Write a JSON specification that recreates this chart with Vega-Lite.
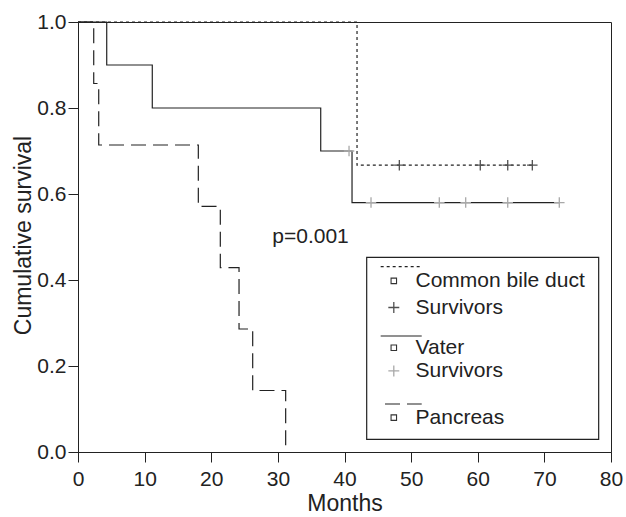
{
  "$schema": "https://vega.github.io/schema/vega-lite/v6.json",
  "width": 533,
  "height": 430,
  "autosize": {"type": "none"},
  "padding": {"left": 78, "top": 22, "right": 15, "bottom": 65},
  "background": "white",
  "config": {
    "view": {"stroke": "#222222", "strokeWidth": 1},
    "font": "Liberation Sans",
    "axis": {
      "domainColor": "#222222",
      "tickColor": "#222222",
      "tickSize": 10,
      "grid": false,
      "labelFont": "Liberation Sans",
      "labelFontSize": 21,
      "labelColor": "#222222",
      "titleFont": "Liberation Sans",
      "titleFontSize": 23,
      "titleFontWeight": "normal",
      "titleColor": "#222222"
    }
  },
  "datasets": {
    "km": [
      {"kind": "step", "series": "Common bile duct", "months": 0, "surv": 1},
      {"kind": "step", "series": "Common bile duct", "months": 41.88, "surv": 0.667},
      {"kind": "step", "series": "Common bile duct", "months": 68.19, "surv": 0.667},
      {"kind": "step", "series": "Vater", "months": 0, "surv": 1},
      {"kind": "step", "series": "Vater", "months": 4.31, "surv": 0.9},
      {"kind": "step", "series": "Vater", "months": 11.15, "surv": 0.8},
      {"kind": "step", "series": "Vater", "months": 36.43, "surv": 0.7},
      {"kind": "step", "series": "Vater", "months": 41.13, "surv": 0.58},
      {"kind": "step", "series": "Vater", "months": 72.24, "surv": 0.58},
      {"kind": "step", "series": "Pancreas", "months": 0, "surv": 1},
      {"kind": "step", "series": "Pancreas", "months": 2.36, "surv": 0.857},
      {"kind": "step", "series": "Pancreas", "months": 3.11, "surv": 0.714},
      {"kind": "step", "series": "Pancreas", "months": 18.06, "surv": 0.571},
      {"kind": "step", "series": "Pancreas", "months": 21.36, "surv": 0.429},
      {"kind": "step", "series": "Pancreas", "months": 24.17, "surv": 0.286},
      {"kind": "step", "series": "Pancreas", "months": 26.22, "surv": 0.143},
      {"kind": "step", "series": "Pancreas", "months": 31.17, "surv": 0},
      {"kind": "censor", "series": "Common bile duct", "months": 48.23, "surv": 0.667},
      {"kind": "censor", "series": "Common bile duct", "months": 60.38, "surv": 0.667},
      {"kind": "censor", "series": "Common bile duct", "months": 64.5, "surv": 0.667},
      {"kind": "censor", "series": "Common bile duct", "months": 68.19, "surv": 0.667},
      {"kind": "censor", "series": "Vater", "months": 40.68, "surv": 0.7},
      {"kind": "censor", "series": "Vater", "months": 43.98, "surv": 0.58},
      {"kind": "censor", "series": "Vater", "months": 54.23, "surv": 0.58},
      {"kind": "censor", "series": "Vater", "months": 58.19, "surv": 0.58},
      {"kind": "censor", "series": "Vater", "months": 64.5, "surv": 0.58},
      {"kind": "censor", "series": "Vater", "months": 72.24, "surv": 0.58}
    ],
    "legend": [
      {"kind": "box", "months": 43.33, "months2": 78.15, "surv": 0.0295, "surv2": 0.4528},
      {"kind": "line", "series": "Common bile duct", "months": 45.43, "months2": 51.59, "surv": 0.4309},
      {"kind": "line", "series": "Vater", "months": 45.43, "months2": 51.59, "surv": 0.2698},
      {"kind": "line", "series": "Pancreas", "months": 46.08, "months2": 51.59, "surv": 0.1116},
      {"kind": "item", "sym": "square", "series": "Common bile duct", "label": "Common bile duct", "surv": 0.398},
      {"kind": "item", "sym": "plus", "series": "Common bile duct", "label": "Survivors", "surv": 0.336},
      {"kind": "item", "sym": "square", "series": "Vater", "label": "Vater", "surv": 0.2425},
      {"kind": "item", "sym": "plus", "series": "Vater", "label": "Survivors", "surv": 0.1886},
      {"kind": "item", "sym": "square", "series": "Pancreas", "label": "Pancreas", "surv": 0.08}
    ]
  },
  "layer": [
    {
      "data": {"name": "km"},
      "transform": [{"filter": "datum.kind === 'step'"}],
      "mark": {"type": "line", "interpolate": "step-after", "color": "#222222", "strokeWidth": 1.2},
      "encoding": {
        "x": {
          "field": "months", "type": "quantitative",
          "scale": {"domain": [0, 80], "nice": false},
          "axis": {"title": "Months", "values": [0, 10, 20, 30, 40, 50, 60, 70, 80], "labelPadding": 6, "labelFlush": false, "titleY": 58, "titleBaseline": "alphabetic"}
        },
        "y": {
          "field": "surv", "type": "quantitative",
          "scale": {"domain": [0, 1], "nice": false},
          "axis": {"title": "Cumulative survival", "values": [0, 0.2, 0.4, 0.6, 0.8, 1], "format": ".1f", "labelPadding": 2, "titleX": -43, "titleY": 213, "titleBaseline": "bottom", "titleAngle": -90, "titleAlign": "center"}
        },
        "strokeDash": {
          "field": "series", "type": "nominal",
          "scale": {"domain": ["Common bile duct", "Vater", "Pancreas"], "range": [[3, 3], [1, 0], [15, 7]]},
          "legend": null
        }
      }
    },
    {
      "data": {"name": "km"},
      "transform": [{"filter": "datum.kind === 'censor'"}],
      "mark": {"type": "point", "shape": "M-1,0H1M0,-1V1", "filled": false, "size": 110, "strokeWidth": 1.3, "opacity": 1},
      "encoding": {
        "x": {"field": "months", "type": "quantitative"},
        "y": {"field": "surv", "type": "quantitative"},
        "color": {
          "field": "series", "type": "nominal",
          "scale": {"domain": ["Common bile duct", "Vater"], "range": ["#505050", "#a8a8a8"]},
          "legend": null
        }
      }
    },
    {
      "data": {"values": [{"label": "p=0.001", "months": 29.16, "surv": 0.486}]},
      "mark": {"type": "text", "align": "left", "baseline": "alphabetic", "fontSize": 21, "font": "Liberation Sans", "color": "#222222"},
      "encoding": {
        "x": {"field": "months", "type": "quantitative"},
        "y": {"field": "surv", "type": "quantitative"},
        "text": {"field": "label"}
      }
    },
    {
      "data": {"name": "legend"},
      "transform": [{"filter": "datum.kind === 'box'"}],
      "mark": {"type": "rect", "fill": "white", "stroke": "#222222", "strokeWidth": 1.2},
      "encoding": {
        "x": {"field": "months", "type": "quantitative"},
        "x2": {"field": "months2"},
        "y": {"field": "surv", "type": "quantitative"},
        "y2": {"field": "surv2"}
      }
    },
    {
      "data": {"name": "legend"},
      "transform": [{"filter": "datum.kind === 'line'"}],
      "mark": {"type": "rule", "color": "#222222", "strokeWidth": 1.2},
      "encoding": {
        "x": {"field": "months", "type": "quantitative"},
        "x2": {"field": "months2"},
        "y": {"field": "surv", "type": "quantitative"},
        "strokeDash": {"field": "series", "type": "nominal", "legend": null}
      }
    },
    {
      "data": {"name": "legend"},
      "transform": [{"filter": "datum.kind === 'item' && datum.sym === 'square'"}],
      "mark": {"type": "point", "shape": "square", "filled": false, "size": 30, "color": "#333333", "strokeWidth": 1.1, "opacity": 1},
      "encoding": {
        "x": {"datum": 47.4, "type": "quantitative"},
        "y": {"field": "surv", "type": "quantitative"}
      }
    },
    {
      "data": {"name": "legend"},
      "transform": [{"filter": "datum.kind === 'item' && datum.sym === 'plus'"}],
      "mark": {"type": "point", "shape": "M-1,0H1M0,-1V1", "filled": false, "size": 120, "strokeWidth": 1.3, "opacity": 1},
      "encoding": {
        "x": {"datum": 47.4, "type": "quantitative"},
        "y": {"field": "surv", "type": "quantitative"},
        "color": {"field": "series", "type": "nominal", "legend": null}
      }
    },
    {
      "data": {"name": "legend"},
      "transform": [{"filter": "datum.kind === 'item'"}],
      "mark": {"type": "text", "align": "left", "baseline": "middle", "fontSize": 21, "font": "Liberation Sans", "color": "#222222"},
      "encoding": {
        "x": {"datum": 50.66, "type": "quantitative"},
        "y": {"field": "surv", "type": "quantitative"},
        "text": {"field": "label"}
      }
    }
  ]
}
